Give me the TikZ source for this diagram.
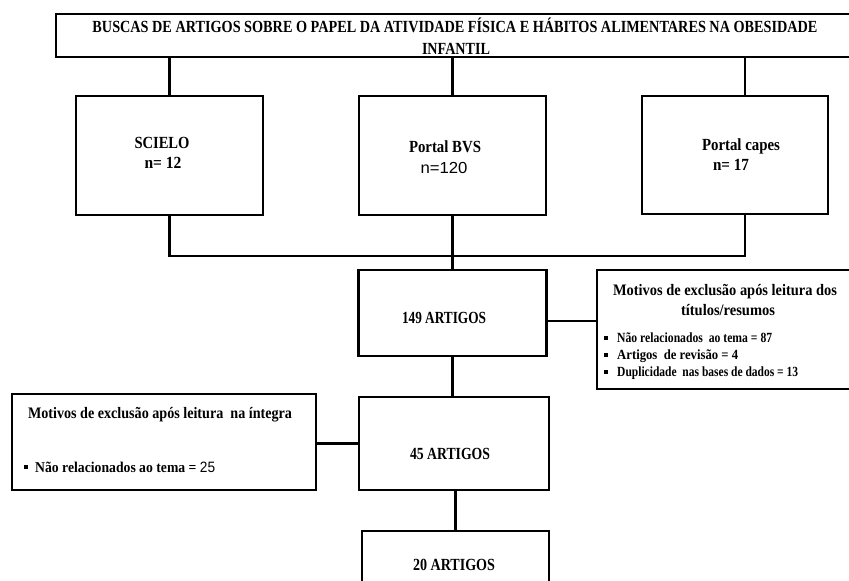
\documentclass[tikz,border=0pt]{standalone}
\usepackage{fontspec}
\setmainfont{Liberation Serif}
\newfontfamily\arialf{Liberation Sans}
\usepackage{graphicx}
\newcommand{\fitw}[2]{\resizebox{#1pt}{\height}{#2}}
\newcommand{\fsz}[1]{\fontsize{#1}{#1}\selectfont}
\begin{document}
\begin{tikzpicture}[x=1pt,y=-1pt,
  box/.style={draw, line width=2.6pt, inner sep=0pt, rectangle},
  link/.style={line width=2.2pt},
  txt/.style={inner sep=0pt, anchor=base, font=\bfseries\fsz{17}},
  ltxt/.style={inner sep=0pt, anchor=base west, font=\bfseries\fsz{14}},
  bul/.style={fill=black, inner sep=0pt, minimum size=4.5pt, rectangle}]
\useasboundingbox (0,0) rectangle (849,581);
\clip (0,0) rectangle (849,581);
% boxes
\node[box, minimum width=814pt, minimum height=43pt] (top) at (463,35.5) {};
\node[box, minimum width=187pt, minimum height=119pt] (scielo) at (169.5,155.5) {};
\node[box, minimum width=187pt, minimum height=119pt] (bvs) at (452.5,155.5) {};
\node[box, minimum width=186pt, minimum height=118pt] (capes) at (735,155) {};
\node[box, minimum width=188pt, minimum height=86pt] (a149) at (452.5,313) {};
\node[box, minimum width=273pt, minimum height=119pt] (ex1) at (733.5,329.5) {};
\node[box, minimum width=190pt, minimum height=93pt] (a45) at (454,443.5) {};
\node[box, minimum width=304pt, minimum height=96pt] (ex2) at (164,442) {};
\node[box, minimum width=187pt, minimum height=93pt] (a20) at (455.5,577.5) {};
% connectors
\coordinate (capesx) at (745,0);
\coordinate (j) at (452.5,256);
\coordinate (ex1y) at (0,321);
\draw[link] (top.south -| scielo.north) -- (scielo.north);
\draw[link] (top.south -| bvs.north) -- (bvs.north);
\draw[link] (top.south -| capesx) -- (capes.north -| capesx);
\draw[link] (scielo.south) |- (j) -| (capes.south -| capesx);
\draw[link] (bvs.south) -- (a149.north);
\draw[link] (a149.east |- ex1y) -- (ex1.west |- ex1y);
\draw[link] (a149.south) -- (a45.north -| a149.south);
\draw[link] (ex2.east |- a45.west) -- (a45.west);
\draw[link] (a45.south -| a20.north) -- (a20.north);
% texts
\node[txt] (t1) at (455,32) {\fitw{725}{BUSCAS DE ARTIGOS SOBRE O PAPEL DA ATIVIDADE FÍSICA E HÁBITOS ALIMENTARES NA OBESIDADE}};
\node[txt] (t2) at (456,54) {\fitw{68}{INFANTIL}};
\node[txt] (s1) at (162,148) {\fitw{55}{SCIELO}};
\node[txt] (s2) at (163,168) {\fitw{37}{n= 12}};
\node[txt] (b1) at (445,152) {\fitw{72}{Portal BVS}};
\node[txt, font=\arialf\fsz{16}] (b2) at (444,173) {\fitw{47}{n=120}};
\node[txt] (c1) at (741,150) {\fitw{78}{Portal capes}};
\node[txt] (c2) at (731,170) {\fitw{36}{n= 17}};
\node[txt] (n149) at (444,323) {\fitw{84}{149 ARTIGOS}};
\node[txt] (n45) at (450,459) {\fitw{80}{45 ARTIGOS}};
\node[txt] (n20) at (454,570) {\fitw{82}{20 ARTIGOS}};
\node[txt, font=\bfseries\fsz{16}] (e1a) at (725,295) {\fitw{224}{Motivos de exclusão após leitura dos}};
\node[txt, font=\bfseries\fsz{16}] (e1b) at (728,315) {\fitw{94}{títulos/resumos}};
\node[ltxt] (e1c) at (617,342) {\fitw{155}{Não relacionados\ \ ao tema = 87}};
\node[ltxt] (e1d) at (617,359) {\fitw{121}{Artigos\ \ de revisão = 4}};
\node[ltxt] (e1e) at (617,376) {\fitw{181}{Duplicidade\ \ nas bases de dados = 13}};
\node[bul] (q1) at (606,338) {};
\node[bul] (q2) at (606,355) {};
\node[bul] (q3) at (606,372) {};
\node[txt, font=\bfseries\fsz{16}] (e2a) at (160,418) {\fitw{264}{Motivos de exclusão após leitura\ \ na íntegra}};
\node[ltxt, font=\bfseries\fsz{15}] (e2b) at (35,472) {\fitw{180}{Não relacionados ao tema = {\mdseries\arialf 25}}};
\node[bul] (q4) at (26,467) {};
\end{tikzpicture}
\end{document}
